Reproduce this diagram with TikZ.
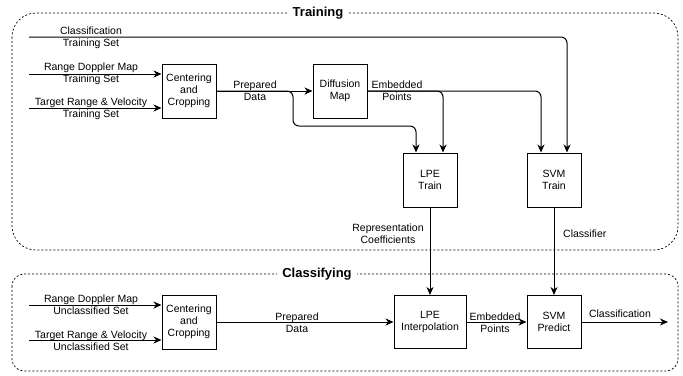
\documentclass[tikz,border=0pt]{standalone}
\usepackage{fontspec}
\setmainfont{Liberation Sans}
\usetikzlibrary{arrows.meta}
\newcommand{\lblfont}{\fontsize{10.5}{12}\selectfont}
\begin{document}
\begin{tikzpicture}[x=1pt,y=-1pt,
  box/.style={draw, line width=1pt, minimum width=54pt, minimum height=54pt, align=center, inner sep=1pt, font=\lblfont},
  lbl/.style={align=center, font=\lblfont, inner sep=0pt},
  conn/.style={line width=1pt, -{Stealth[length=8pt,width=7pt,inset=2.5pt]}, rounded corners=6pt},
  frame/.style={dash pattern=on 2pt off 2pt, line width=0.7pt},
  ttl/.style={font=\bfseries\fontsize{13}{15}\selectfont, fill=white, inner ysep=1pt}]
\useasboundingbox (0,0) rectangle (683,375);
\draw[frame, rounded corners=24pt] (12,13) rectangle (678,250);
\draw[frame, rounded corners=12pt] (12,274) rectangle (678,371);
\node[ttl, inner xsep=6pt] (ttrain) at (318,13) {Training};
\node[ttl, inner xsep=5pt] (tclass) at (317,274) {Classifying};

\node[box] (cc1) at (189,91) {Centering\\and\\Cropping};
\node[box] (dm) at (340,91) {Diffusion\\Map};
\node[box] (lpet) at (430,180) {LPE\\Train};
\node[box] (svmt) at (554,180) {SVM\\Train};
\node[box] (cc2) at (189,322) {Centering\\and\\Cropping};
\node[box, minimum width=72pt, minimum height=53pt] (lpei) at (430,322) {LPE\\Interpolation};
\node[box, minimum height=53pt] (svmp) at (554,322) {SVM\\Predict};

\coordinate (s1) at (29,37);
\coordinate (s2) at (29,74);
\coordinate (s3) at (29,108);
\coordinate (s4) at (29,305);
\coordinate (s5) at (29,340);
\coordinate (e1) at (668,322);
\coordinate (b1) at (293,91);
\coordinate (b2) at (293,126);

\draw[conn] (s1) -| ([xshift=13pt]svmt.north);
\draw[conn] (s2) -- (cc1.west |- s2);
\draw[conn] (s3) -- (cc1.west |- s3);
\draw[conn] (cc1.east) -- (dm.west);
\draw[conn] (cc1.east) -- (b1) -- (b2) -| ([xshift=-14pt]lpet.north);
\draw[conn] (dm.east) -| ([xshift=13pt]lpet.north);
\draw[conn] (dm.east) -| ([xshift=-13pt]svmt.north);
\draw[conn] (lpet.south) -- (lpet.south |- lpei.north);
\draw[conn] (svmt.south) -- (svmp.north);
\draw[conn] (s4) -- (cc2.west |- s4);
\draw[conn] (s5) -- (cc2.west |- s5);
\draw[conn] (cc2.east) -- (lpei.west);
\draw[conn] (lpei.east) -- (svmp.west);
\draw[conn] (svmp.east) -- (e1);

\node[lbl] (l1) at (91,38) {Classification\\Training Set};
\node[lbl] (l2) at (91,74) {Range Doppler Map\\Training Set};
\node[lbl] (l3) at (91,109) {Target Range \& Velocity\\Training Set};
\node[lbl] (l4) at (255,91) {Prepared\\Data};
\node[lbl] (l5) at (397,91) {Embedded\\Points};
\node[lbl] (l6) at (388,234) {Representation\\Coefficients};
\node[lbl, anchor=west] (l7) at (563,234) {Classifier};
\node[lbl] (l8) at (91,305) {Range Doppler Map\\Unclassified Set};
\node[lbl] (l9) at (91,341) {Target Range \& Velocity\\Unclassified Set};
\node[lbl] (l10) at (297,323) {Prepared\\Data};
\node[lbl] (l11) at (495,323) {Embedded\\Points};
\node[lbl] (l12) at (620,314) {Classification};
\end{tikzpicture}
\end{document}
